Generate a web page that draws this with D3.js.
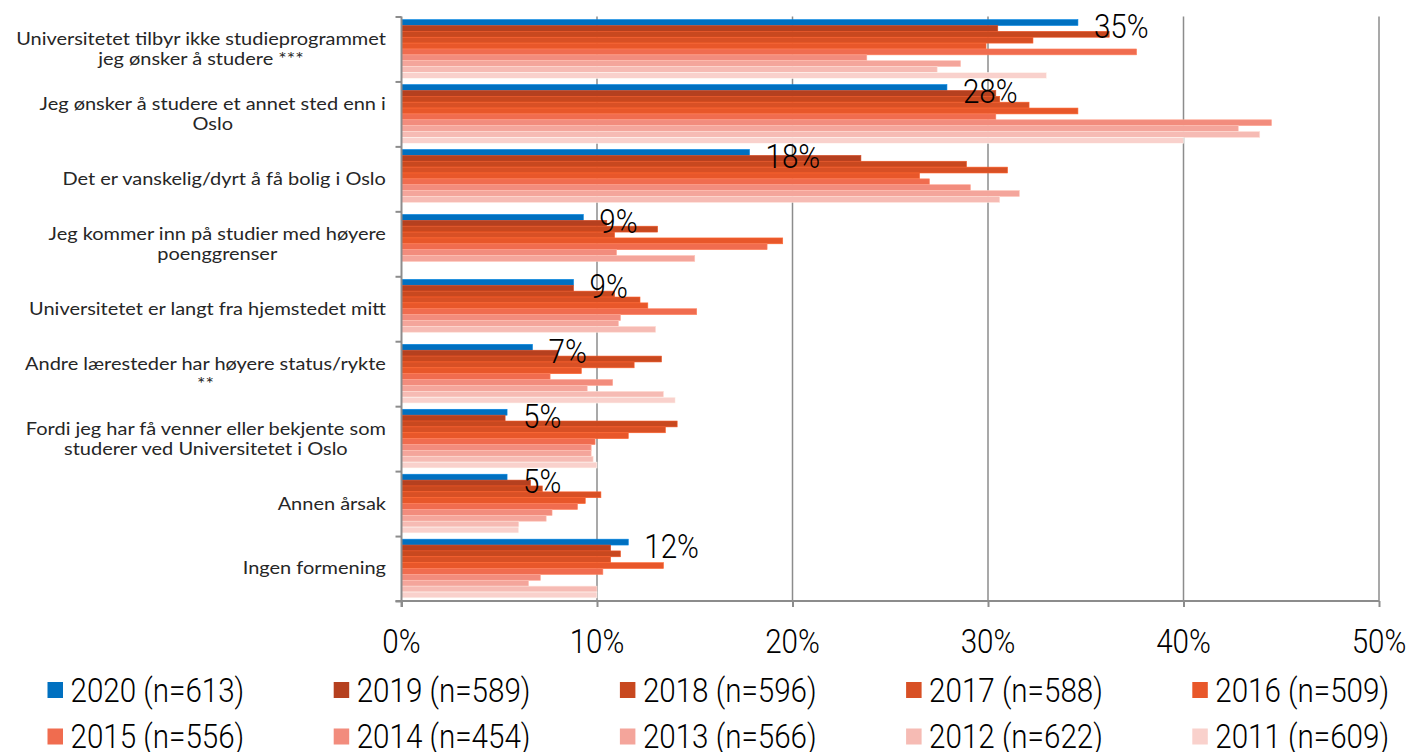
<!DOCTYPE html>
<html>
<head>
<meta charset="utf-8">
<script src="https://cdn.jsdelivr.net/npm/d3@7"></script>
<style>
	body { margin:0; background:#fff; }
	.cat { font-family: Lato, "Noto Sans", sans-serif; font-size:17px; fill:#262626; }
	.big { font-family: Roboto, sans-serif; font-weight:300; font-size:34px; fill:#000; }
</style>
</head>
<body>
<div id="svgContainer"></div>
<script>
// categories (top to bottom), each entry = lines of the label
const categories = [
	["Universitetet tilbyr ikke studieprogrammet", "jeg ønsker å studere ***"],
	["Jeg ønsker å studere et annet sted enn i", "Oslo"],
	["Det er vanskelig/dyrt å få bolig i Oslo"],
	["Jeg kommer inn på studier med høyere", "poenggrenser"],
	["Universitetet er langt fra hjemstedet mitt"],
	["Andre læresteder har høyere status/rykte", "**"],
	["Fordi jeg har få venner eller bekjente som", "studerer ved Universitetet i Oslo"],
	["Annen årsak"],
	["Ingen formening"]
];

const seriesNames = ["2020 (n=613)", "2019 (n=589)", "2018 (n=596)", "2017 (n=588)", "2016 (n=509)",
	"2015 (n=556)", "2014 (n=454)", "2013 (n=566)", "2012 (n=622)", "2011 (n=609)"];

// percent values per year, same order as categories (null = not asked)
const v2020 = [34.6, 27.9, 17.8, 9.3, 8.8, 6.7, 5.4, 5.4, 11.6];
const v2019 = [30.5, 30.4, 23.5, 10.5, 8.8, 8.0, 5.3, 6.6, 10.7];
const v2018 = [36.2, 30.6, 28.9, 13.1, 10.9, 13.3, 14.1, 7.2, 11.2];
const v2017 = [32.3, 32.1, 31.0, 10.9, 12.2, 11.9, 13.5, 10.2, 10.7];
const v2016 = [29.9, 34.6, 26.5, 19.5, 12.6, 9.2, 11.6, 9.4, 13.4];
const v2015 = [37.6, 30.4, 27.0, 18.7, 15.1, 7.6, 9.9, 9.0, 10.3];
const v2014 = [23.8, 44.5, 29.1, 11.0, 11.2, 10.8, 9.7, 7.7, 7.1];
const v2013 = [28.6, 42.8, 31.6, 15.0, 11.1, 9.5, 9.7, 7.4, 6.5];
const v2012 = [27.4, 43.9, 30.6, null, 13.0, 13.4, 9.8, 6.0, 10.0];
const v2011 = [33.0, 40.0, null, null, null, 14.0, 10.0, 6.0, 10.0];

const seriesValues = [v2020, v2019, v2018, v2017, v2016, v2015, v2014, v2013, v2012, v2011];

const colors = ["#0070c0", "#b5401f", "#c8481f", "#d85025", "#e8572a",
	"#f06c4f", "#f28c7d", "#f4a59b", "#f6bbb4", "#f9d1cc"];

const xTicks = [0, 10, 20, 30, 40, 50];

const W = 1412, H = 752;
const plot = {left:401.5, right:1379, top:16.5, bottom:601};

var svg = d3.select("#svgContainer").append("svg")
	.attr("width", W).attr("height", H);

var xScale = d3.scaleLinear().domain([0, 50]).range([plot.left, plot.right]);
var y0 = d3.scaleBand().domain(d3.range(categories.length)).range([plot.top, plot.bottom]);
var y1 = d3.scaleBand().domain(d3.range(seriesNames.length))
	.range([0, y0.bandwidth()]).paddingOuter(0.53);

// grid lines
svg.append("g").selectAll("line")
	.data(xTicks.slice(1))
	.enter().append("line")
	.attr("x1", d => xScale(d)).attr("x2", d => xScale(d))
	.attr("y1", plot.top).attr("y2", plot.bottom)
	.attr("stroke", "#8c8c8c").attr("stroke-width", 1.5);

// bars
var rows = [];
seriesValues.forEach(function (vals, s) {
	vals.forEach(function (v, c) {
		if (v !== null) rows.push({s:s, c:c, v:v});
	});
});

svg.append("g").selectAll("rect")
	.data(rows)
	.enter().append("rect")
	.attr("x", xScale(0))
	.attr("y", d => y0(d.c) + y1(d.s))
	.attr("width", d => xScale(d.v) - xScale(0))
	.attr("height", y1.bandwidth())
	.attr("fill", d => colors[d.s])
	.attr("stroke", d => d3.color(colors[d.s]).brighter(0.5))
	.attr("stroke-width", 0.6);

// axes
var xAxis = d3.axisBottom(xScale).tickValues(xTicks).tickSize(6).tickFormat("");
var gx = svg.append("g")
	.attr("transform", "translate(0," + plot.bottom + ")")
	.call(xAxis);
gx.select(".domain").attr("d", "M" + (plot.left - 6) + ",0H" + plot.right);

var yAxis = d3.axisLeft(d3.scaleLinear().domain([0, categories.length]).range([plot.top, plot.bottom]))
	.tickValues(d3.range(categories.length + 1)).tickSize(6).tickFormat("");
var gy = svg.append("g")
	.attr("transform", "translate(" + plot.left + ",0)")
	.call(yAxis);
gy.select(".domain").attr("d", "M0," + plot.top + "V" + (plot.bottom + 6));

svg.selectAll(".domain, .tick line").attr("stroke", "#8c8c8c").attr("stroke-width", 2);

// condensed big text helper
function bigText(g, x, y, txt, anchor) {
	g.append("g")
		.attr("transform", "translate(" + x + "," + y + ") scale(0.87,1)")
		.append("text")
		.attr("class", "big")
		.attr("text-anchor", anchor)
		.attr("dy", "0.35em")
		.text(txt);
}

// x tick labels
var xl = svg.append("g");
xTicks.forEach(function (t) {
	bigText(xl, xScale(t), 641, t + "%", "middle");
});

// category labels: lines centred on each other, block right aligned
// the original font is wider, so stretch so that the first line is ~370px wide
var cl = svg.append("g");
var probe = cl.append("text").attr("class", "cat").text(categories[0][0]);
var stretch = 370 / probe.node().getComputedTextLength();
probe.remove();

categories.forEach(function (lines, i) {
	var cy = y0(i) + y0.bandwidth() / 2;
	var g = cl.append("g");
	var texts = lines.map(function (ln, k) {
		return g.append("text").attr("class", "cat")
			.attr("y", cy + (k - (lines.length - 1) / 2) * 20)
			.attr("dy", "0.35em")
			.attr("text-anchor", "middle")
			.text(ln);
	});
	var w = d3.max(texts, t => t.node().getComputedTextLength()) * stretch;
	var cx = 386 - w / 2;
	g.attr("transform", "translate(" + cx + ",0) scale(" + stretch + ",1)");
});

// data labels for 2020
var dl = svg.append("g");
v2020.forEach(function (v, c) {
	bigText(dl, xScale(v) + 16, y0(c) + y1(0) + y1.bandwidth() + 1, Math.round(v) + "%", "start");
});

// legend
var lg = svg.append("g");
seriesNames.forEach(function (name, i) {
	var col = i % 5, row = Math.floor(i / 5);
	var lx = 47.5 + col * 286.2, ly = 690 + row * 46.5;
	lg.append("rect")
		.attr("x", lx).attr("y", ly - 8)
		.attr("width", 15.5).attr("height", 16)
		.attr("fill", colors[i]);
	bigText(lg, lx + 23, ly, name, "start");
});
</script>
</body>
</html>
